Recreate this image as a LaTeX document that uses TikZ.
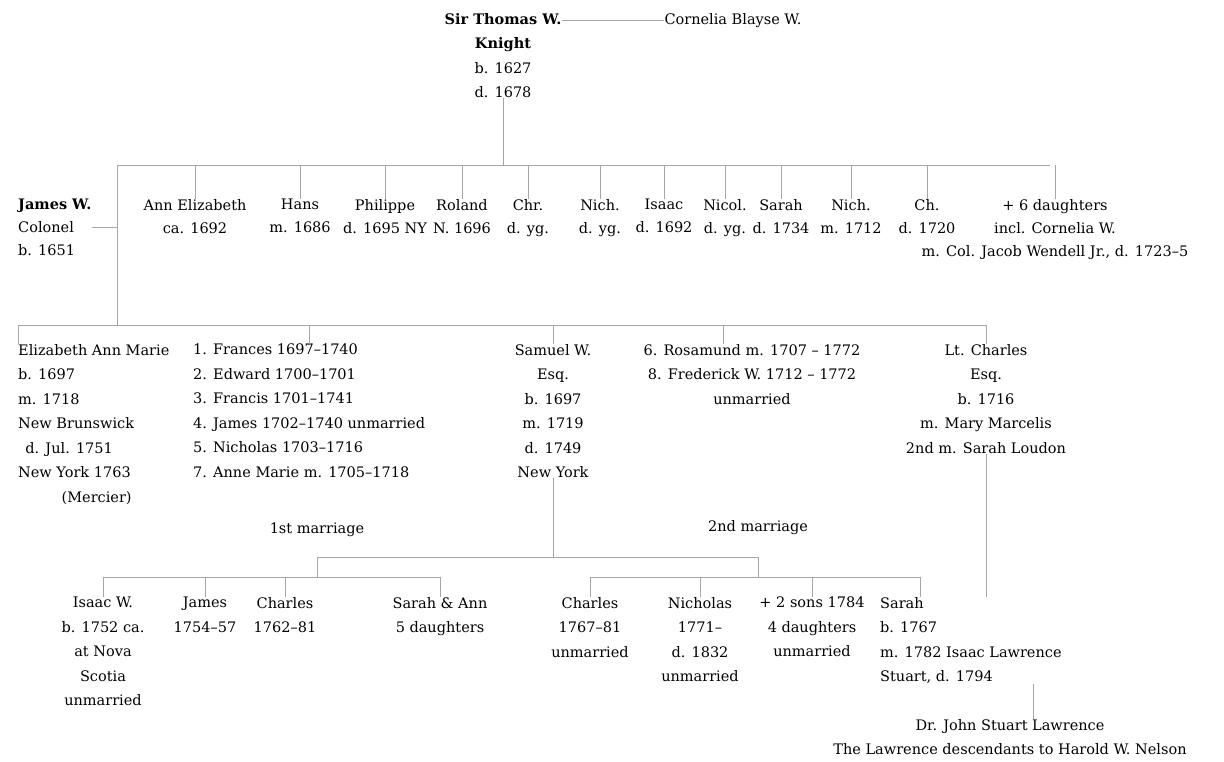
\documentclass[tikz,border=0pt]{standalone}
\usepackage{fontspec}
\setmainfont{DejaVu Serif}
\newcommand{\fs}{\fontsize{14.5}{24.5}\selectfont}
\newcommand{\fsa}{\fontsize{14.5}{23}\selectfont}
\begin{document}
\begin{tikzpicture}[x=1pt,y=-1pt,
  per/.style={font=\fs,align=center,inner sep=0pt,anchor=north},
  pera/.style={font=\fsa,align=center,inner sep=0pt,anchor=north},
  lft/.style={font=\fs,align=left,inner sep=0pt,anchor=north west},
  link/.style={draw=black!35,line width=0.5pt},
  lbl/.style={font=\fs,inner sep=0pt}]
\useasboundingbox (0,0) rectangle (1224,761);
% generation 0
\node[per] (T) at (503,13) {\textbf{Sir Thomas W.}\\\textbf{Knight}\\b. 1627\\d. 1678};
\node[per] (C) at (733,13) {Cornelia Blayse W.};
\draw[link] (C.west) -- (C.west -| T.north east);
% bus A
\coordinate (busL) at (117,165);
\coordinate (busR) at (1050,165);
\draw[link] (T.south) -- (T.south |- busL);
\draw[link] (busL) -- (busR);
% generation 1
\node[lft,font=\fsa] (a1) at (18,199) {\textbf{James W.}\\Colonel\\b. 1651};
\node[pera] (a2) at (195,199) {Ann Elizabeth\\ca. 1692};
\node[pera] (a3) at (300,199) {Hans\\m. 1686};
\node[pera] (a4) at (385,199) {Philippe\\d. 1695 NY};
\node[pera] (a5) at (462,199) {Roland\\N. 1696};
\node[pera] (a6) at (528,199) {Chr.\\d. yg.};
\node[pera] (a7) at (600,199) {Nich.\\d. yg.};
\node[pera] (a8) at (664,199) {Isaac\\d. 1692};
\node[pera] (a9) at (725,199) {Nicol.\\d. yg.};
\node[pera] (a10) at (781,199) {Sarah\\d. 1734};
\node[pera] (a11) at (851,199) {Nich.\\m. 1712};
\node[pera] (a12) at (927,199) {Ch.\\d. 1720};
\node[pera] (a13) at (1055,199) {+ 6 daughters\\incl. Cornelia W.\\m. Col. Jacob Wendell Jr., d. 1723--5};
\foreach \n in {a2,a3,a4,a5,a6,a7,a8,a9,a10,a11,a12,a13}
  \draw[link] (\n.north) -- (\n.north |- busL);
% bus B
\coordinate (bBL) at (18,325);
\coordinate (bBR) at (986,325);
\draw[link] (busL) -- (busL |- bBL);
\draw[link] (a1.east) -- (a1.east -| busL);
\draw[link] (bBL) -- (bBR);
% generation 2
\node[lft] (b1) at (18,344) {Elizabeth Ann Marie\\b. 1697\\m. 1718\\New Brunswick\\\hspace{0.5em}d. Jul. 1751\\New York 1763\\\hspace{3em}(Mercier)};
\node[lft] (b2) at (193,344) {1. Frances 1697--1740\\2. Edward 1700--1701\\3. Francis 1701--1741\\4. James 1702--1740 unmarried\\5. Nicholas 1703--1716\\7. Anne Marie m. 1705--1718};
\node[per] (b3) at (553,344) {Samuel W.\\Esq.\\b. 1697\\m. 1719\\d. 1749\\New York};
\node[per] (b4) at (752,344) {6. Rosamund m. 1707 -- 1772\\8. Frederick W. 1712 -- 1772\\unmarried};
\node[per] (b5) at (986,344) {Lt. Charles\\Esq.\\b. 1716\\m. Mary Marcelis\\2nd m. Sarah Loudon};
\coordinate (rx) at (723,0);
\draw[link] (b1.north west) -- (b1.north west |- bBL);
\draw[link] (b2.north) -- (b2.north |- bBL);
\draw[link] (b3.north) -- (b3.north |- bBL);
\draw[link] (b4.north -| rx) -- (bBL -| rx);
\draw[link] (b5.north) -- (b5.north |- bBL);
% marriages of Samuel
\coordinate (m1) at (317,557);
\coordinate (m2) at (758,557);
\coordinate (cL) at (103,577);
\coordinate (cR) at (440,577);
\coordinate (dL) at (590,577);
\coordinate (dR) at (920,577);
\node[lbl] (L1) at (317,530) {1st marriage};
\node[lbl] (L2) at (758,528) {2nd marriage};
\draw[link] (b3.south) -- (b3.south |- m1);
\draw[link] (m1) -- (m2);
\draw[link] (m1) -- (m1 |- cL);
\draw[link] (m2) -- (m2 |- dL);
\draw[link] (cL) -- (cR);
\draw[link] (dL) -- (dR);
% generation 3
\node[per] (c1) at (103,597) {Isaac W.\\b. 1752 ca.\\at Nova\\Scotia\\unmarried};
\node[per] (c2) at (205,597) {James\\1754--57};
\node[per] (c3) at (285,597) {Charles\\1762--81};
\node[per] (c4) at (440,597) {Sarah \& Ann\\5 daughters};
\node[per] (d1) at (590,597) {Charles\\1767--81\\unmarried};
\node[per] (d2) at (700,597) {Nicholas\\1771--\\d. 1832\\unmarried};
\node[per] (d3) at (812,597) {+ 2 sons 1784\\4 daughters\\unmarried};
\node[lft] (d4) at (880,597) {Sarah\\b. 1767\\m. 1782 Isaac Lawrence\\Stuart, d. 1794};
\foreach \n in {c1,c2,c3,c4}
  \draw[link] (\n.north) -- (\n.north |- cL);
\foreach \n in {d1,d2,d3}
  \draw[link] (\n.north) -- (\n.north |- dL);
\coordinate (sx) at (920,0);
\draw[link] (d4.north -| sx) -- (dL -| sx);
\draw[link] (b5.south) -- (b5.south |- d4.north);
% descendants
\node[per] (E) at (1010,719) {Dr. John Stuart Lawrence\\The Lawrence descendants to Harold W. Nelson};
\coordinate (ex) at (1033,0);
\draw[link] (d4.south -| ex) -- (E.north -| ex);
\end{tikzpicture}
\end{document}
